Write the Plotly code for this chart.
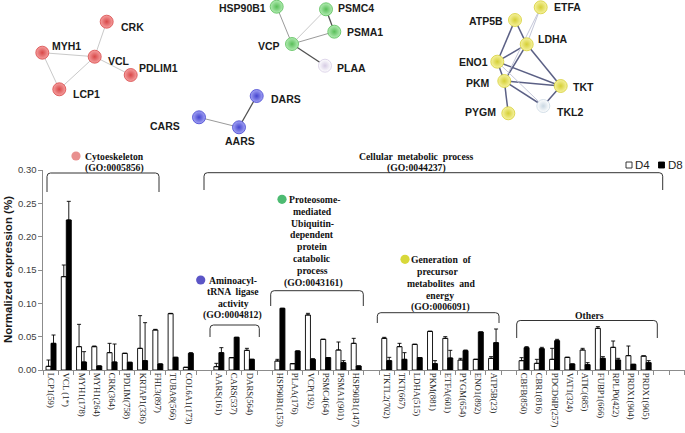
import plotly.graph_objects as go

# ---------------- data ----------------
categories = ["LCP1(59)", "VCL (1*)", "MYH1(178)", "MYH1(264)", "CRK(364)", "PDLIM(758)",
              "KRTAP1(336)", "FHL3(897)", "TUBA8(566)", "COL6A1(173)", "",
              "AARS(161)", "CARS(537)", "DARS(564)", "",
              "HSP90B1(153)", "PLAA(176)", "VCP(192)", "PSMC4(64)", "PSMA1(901)", "HSP90B1(147)", "",
              "TKTL2(702)", "TKT(667)", "LDHA(515)", "PKM(881)", "ETFA(601)", "PYGM(654)", "ENO1(892)", "ATP5B(23)", "",
              "CBFB(850)", "CBR1(816)", "PDCD6IP(257)", "VAT1(324)", "ATIC(685)", "FUBP1(666)", "RPLP0(422)",
              "PRDX1(904)", "PRDX1(905)", "", ""]

d4 = [0.0055, 0.140, 0.035, 0.035, 0.026, 0.025, 0.0325, 0.060, 0.0845, 0.004, None,
      0.005, 0.0185, 0.0295, None,
      0.0135, 0.0095, 0.0825, 0.046, 0.030, 0.040, None,
      0.0475, 0.035, 0.0385, 0.058, 0.0475, 0.015, 0.016, 0.0175, None,
      0.014, 0.010, 0.016, 0.019, 0.030, 0.0625, 0.034, 0.0215, 0.021, None, None]
d4_err = [0.0095, 0.0175, 0.0335, 0.001, 0.014, None, 0.049, 0.001, 0.0005, None, None,
          0.005, None, 0.003, None,
          0.0025, None, 0.0025, None, 0.012, 0.0075, None,
          0.0015, 0.005, None, None, 0.0025, 0.0025, None, 0.0025, None,
          0.0045, 0.006, 0.0165, None, 0.0025, 0.0025, 0.0095, 0.0145, None, None, None]

d8 = [0.040, 0.225, 0.012, 0.006, 0.012, 0.0115, 0.014, 0.009, 0.019, 0.025, None,
      0.026, 0.049, 0.016, None,
      0.0925, 0.0285, 0.016, 0.0185, 0.011, 0.006, None,
      0.014, 0.016, 0.0185, 0.0095, 0.018, 0.029, 0.057, 0.041, None,
      0.0335, 0.032, 0.044, 0.009, 0.008, 0.0175, 0.015, 0.0085, 0.011, None, None]
d8_err = [0.0125, 0.028, 0.0155, None, 0.027, None, 0.057, None, None, 0.001, None,
          0.0075, None, None, None,
          None, None, 0.001, None, 0.003, None, None,
          0.005, 0.010, None, 0.0045, 0.0115, 0.001, None, 0.0205, None,
          0.0015, 0.002, 0.002, None, 0.003, 0.0025, 0.0025, None, 0.003, None, None]

y_ticks = [0.00, 0.05, 0.10, 0.15, 0.20, 0.25, 0.30]

# protein interaction networks (node positions, in pixels)
node_names = ["CRK", "MYH1", "VCL", "PDLIM1", "LCP1",
              "HSP90B1", "PSMC4", "PSMA1", "VCP", "PLAA",
              "DARS", "CARS", "AARS",
              "ETFA", "ATP5B", "LDHA", "ENO1", "PKM", "TKT", "TKL2", "PYGM"]
node_x = [106.7, 42.3, 94.7, 130.7, 59.3,
          276.7, 326.0, 334.3, 292.0, 325.0,
          256.7, 199.0, 239.0,
          540.7, 515.0, 526.7, 497.3, 504.3, 560.7, 543.3, 508.3]
node_y = [21.7, 52.7, 56.7, 75.0, 89.3,
          6.7, 9.3, 31.7, 44.0, 65.7,
          96.0, 117.3, 127.3,
          7.3, 20.0, 44.3, 61.7, 81.0, 86.0, 106.0, 113.3]
node_group = ["red"] * 5 + ["green"] * 4 + ["pale"] + ["blue"] * 3 + ["yellow"] * 6 + ["white", "yellow"]
edges = [("MYH1", "VCL", "light"), ("MYH1", "LCP1", "light"), ("LCP1", "VCL", "light"),
         ("VCL", "CRK", "light"), ("VCL", "PDLIM1", "light"),
         ("HSP90B1", "VCP", "mid"), ("VCP", "PSMC4", "light"), ("VCP", "PSMA1", "mid"),
         ("PSMC4", "PSMA1", "dark"), ("VCP", "PLAA", "dark"),
         ("CARS", "AARS", "mid"), ("AARS", "DARS", "dark"),
         ("ATP5B", "LDHA", "blue"), ("ATP5B", "ENO1", "blue"), ("ETFA", "LDHA", "pale"),
         ("ETFA", "PKM", "pale"), ("LDHA", "ENO1", "blue"), ("LDHA", "PKM", "blue"),
         ("LDHA", "TKT", "blue"), ("ENO1", "PKM", "blue"), ("ENO1", "TKT", "blue"),
         ("ENO1", "TKL2", "pale"), ("PKM", "TKT", "blue"), ("PKM", "TKL2", "blue"),
         ("PKM", "PYGM", "blue"), ("TKT", "TKL2", "blue")]

# ---------------- styles ----------------
W, H = 685, 433
X_LEFT, X_RIGHT = 43.4, 685.0
Y_TOP, Y_BOT = 170.0, 370.0
SERIF = "Liberation Serif, Times New Roman, serif"
SANS = "Liberation Sans, Arial, sans-serif"

node_fill = {"red": ("#f5a0a0", "#d84848"), "green": ("#b4ecb4", "#58be58"),
             "blue": ("#a4a4f4", "#4444d0"), "yellow": ("#f6f2a0", "#d5cf36"),
             "pale": ("#ffffff", "#d6cce4"), "white": ("#ffffff", "#c9d7e2")}
edge_style = {"light": ("#c9c9c9", 1.0), "mid": ("#9a9a9a", 1.0), "dark": ("#505050", 1.3),
              "blue": ("#5b6085", 1.5), "pale": ("#c3c6d8", 1.0)}
label_pos = {"CRK": (12, 5.5, "left"), "MYH1": (8, -7, "left"), "VCL": (11, 4, "left"),
             "PDLIM1": (6, -7, "left"), "LCP1": (12, 5, "left"),
             "HSP90B1": (-9, 1, "right"), "PSMC4": (10, -1, "left"), "PSMA1": (11, 0, "left"),
             "VCP": (-10, 2, "right"), "PLAA": (10, 2.5, "left"),
             "DARS": (12, 3, "left"), "CARS": (-17, 9, "right"), "AARS": (1, 14, "center"),
             "ETFA": (11, 0, "left"), "ATP5B": (-10, 1, "right"), "LDHA": (9, -5, "left"),
             "ENO1": (-7.5, 0, "right"), "PKM": (-12.5, 2, "right"), "TKT": (10, 1, "left"),
             "TKL2": (12, 6, "left"), "PYGM": (-10.5, -1.5, "right")}

fig = go.Figure()

x_idx = list(range(len(categories)))
fig.add_trace(go.Bar(
    x=x_idx, y=d4, name="D4",
    marker=dict(color="white", line=dict(color="black", width=0.9)),
    error_y=dict(type="data", symmetric=False, array=d4_err, arrayminus=[0] * len(d4),
                 color="black", thickness=0.9, width=2),
    xaxis="x", yaxis="y", showlegend=False))
fig.add_trace(go.Bar(
    x=x_idx, y=d8, name="D8",
    marker=dict(color="black", line=dict(color="black", width=0.9)),
    error_y=dict(type="data", symmetric=False, array=d8_err, arrayminus=[0] * len(d8),
                 color="black", thickness=0.9, width=2),
    xaxis="x", yaxis="y", showlegend=False))

# network edges
pos = {n: (x, y) for n, x, y in zip(node_names, node_x, node_y)}
for style, (col, wid) in edge_style.items():
    ex, ey = [], []
    for a, b, s in edges:
        if s == style:
            ex += [pos[a][0], pos[b][0], None]
            ey += [pos[a][1], pos[b][1], None]
    if ex:
        fig.add_trace(go.Scatter(x=ex, y=ey, mode="lines", line=dict(color=col, width=wid),
                                 xaxis="x3", yaxis="y3", showlegend=False, hoverinfo="skip"))
fig.add_trace(go.Scatter(
    x=node_x, y=node_y, mode="markers", xaxis="x3", yaxis="y3", showlegend=False,
    marker=dict(size=13,
                color=[node_fill[g][0] for g in node_group],
                gradient=dict(type="radial", color=[node_fill[g][1] for g in node_group]),
                line=dict(color=[node_fill[g][1] for g in node_group], width=0.8)),
    hoverinfo="text", text=node_names))

annotations = []
for n in node_names:
    dx, dy, anc = label_pos[n]
    annotations.append(dict(x=pos[n][0] + dx, y=pos[n][1] + dy, xref="x3", yref="y3",
                            text=f"<b>{n}</b>", showarrow=False, xanchor=anc, yanchor="middle",
                            font=dict(family=SANS, size=10.5, color="#1a1a1a")))

# group labels
group_lines = [
    ("Cytoeskeleton", 114.5, 156), ("(GO:0005856)", 114.5, 168),
    ("Cellular  metabolic  process", 416, 156), ("(GO:0044237)", 416, 168),
    ("Aminoacyl-", 233, 280), ("tRNA  ligase", 233, 291.5), ("activity", 233, 303), ("(GO:0004812)", 232, 314.5),
    ("Proteosome-", 314, 199.3), ("mediated", 312, 211), ("Ubiquitin-", 312, 223), ("dependent", 312, 234.7),
    ("protein", 312, 246.3), ("catabolic", 312, 258), ("process", 312, 270), ("(GO:0043161)", 313, 282.5),
    ("Generation  of", 441, 259.3), ("precursor", 437, 271), ("metabolites  and", 441, 283),
    ("energy", 440, 295), ("(GO:0006091)", 440, 306.7),
    ("Others", 589, 315),
]
for t, x, y in group_lines:
    annotations.append(dict(x=x, y=y, xref="x3", yref="y3", text=f"<b>{t.replace('  ', ' &nbsp;')}</b>",
                            showarrow=False, xanchor="center", yanchor="middle",
                            font=dict(family=SERIF, size=9.7, color="#111")))

# y-axis title
annotations.append(dict(x=8, y=270, xref="x3", yref="y3", text="<b>Normalized expression (%)</b>",
                        textangle=-90, showarrow=False, xanchor="center", yanchor="middle",
                        font=dict(family=SANS, size=11.5, color="#1a1a1a")))
# legend text
annotations.append(dict(x=633, y=165, xref="x3", yref="y3", text="D4", showarrow=False,
                        xanchor="left", yanchor="middle", font=dict(family=SANS, size=11.5, color="#222")))
annotations.append(dict(x=665.5, y=165, xref="x3", yref="y3", text="D8", showarrow=False,
                        xanchor="left", yanchor="middle", font=dict(family=SANS, size=11.5, color="#222")))

shapes = []
# brackets (pixels): x0, x1, top, bottom
brackets = [(47, 159, 173, 192), (204, 662.7, 172.7, 190), (210, 259.3, 325, 337),
            (270.7, 363.3, 290.7, 306), (377.3, 499, 312.7, 323), (516.7, 657.3, 320.5, 338)]
for x0, x1, yt, yb in brackets:
    r = 3.5
    path = (f"M{x0},{yb} L{x0},{yt + r} Q{x0},{yt} {x0 + r},{yt} L{x1 - r},{yt} "
            f"Q{x1},{yt} {x1},{yt + r} L{x1},{yb}")
    shapes.append(dict(type="path", path=path, xref="x3", yref="y3",
                       line=dict(color="#333", width=1)))
# colour dots for GO groups
for cx, cy, col in [(76, 156, "#e8908f"), (200.7, 280, "#5b55c6"), (282, 199.3, "#4dbb72"),
                    (405, 259.3, "#d8d83a")]:
    shapes.append(dict(type="circle", xref="x3", yref="y3", x0=cx - 4.6, x1=cx + 4.6,
                       y0=cy - 4.6, y1=cy + 4.6, fillcolor=col, line=dict(width=0)))
# legend squares
shapes.append(dict(type="rect", xref="x3", yref="y3", x0=626, x1=632, y0=162, y1=168,
                   fillcolor="white", line=dict(color="#222", width=0.9)))
shapes.append(dict(type="rect", xref="x3", yref="y3", x0=658.5, x1=664.5, y0=162, y1=168,
                   fillcolor="black", line=dict(color="black", width=0.9)))

n = len(categories)
fig.update_layout(
    width=W, height=H, autosize=False,
    margin=dict(l=0, r=0, t=0, b=0, pad=0),
    paper_bgcolor="white", plot_bgcolor="rgba(0,0,0,0)",
    barmode="group", bargap=0.345, bargroupgap=0,
    xaxis=dict(domain=[X_LEFT / W, X_RIGHT / W], range=[-0.5, -0.5 + (X_RIGHT - X_LEFT) / 15.26],
               tickmode="array", tickvals=[i for i, c in enumerate(categories) if c],
               ticktext=[c for c in categories if c], tickangle=90, ticks="",
               tickfont=dict(family=SERIF, size=8.8, color="#222"),
               showline=True, linecolor="#8c8c8c", linewidth=1, showgrid=False, zeroline=False,
               minor=dict(tickmode="array", tickvals=[i - 0.5 for i in range(n + 1)],
                          ticks="outside", ticklen=4, tickcolor="#8c8c8c", showgrid=False),
               automargin=False, anchor="y", fixedrange=True),
    yaxis=dict(domain=[(H - Y_BOT) / H, (H - Y_TOP) / H], range=[0, 0.30],
               tickmode="array", tickvals=y_ticks, tickformat=".2f",
               ticks="outside", ticklen=4, tickcolor="#8c8c8c",
               tickfont=dict(family=SANS, size=9.5, color="#404040"),
               showline=True, linecolor="#8c8c8c", linewidth=1, showgrid=False, zeroline=False,
               automargin=False, anchor="x", fixedrange=True),
    xaxis3=dict(domain=[0, 1], range=[0, W], visible=False, anchor="y3", fixedrange=True),
    yaxis3=dict(domain=[0, 1], range=[H, 0], visible=False, anchor="x3", fixedrange=True),
    annotations=annotations, shapes=shapes,
)

fig.write_html("out.html", config={"displayModeBar": False, "staticPlot": True},
               post_script="document.body.style.margin='0';document.body.style.padding='0';"
                           "document.body.style.overflow='hidden';")
